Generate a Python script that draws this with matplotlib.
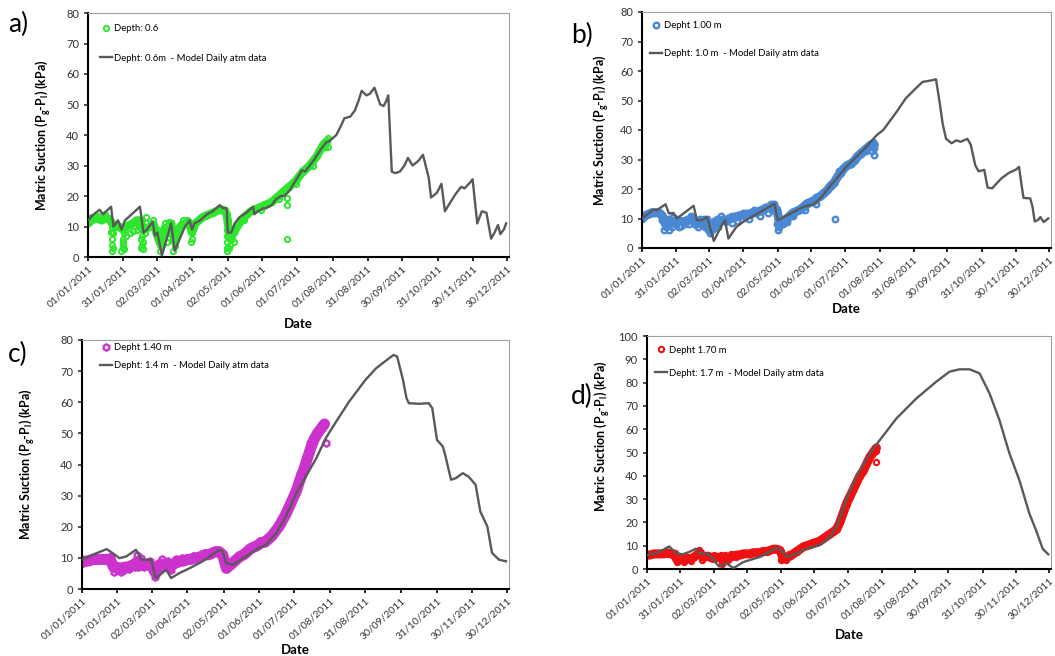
import numpy as np
import pandas as pd
import matplotlib
matplotlib.use("Agg")
import matplotlib.pyplot as plt
from matplotlib.lines import Line2D

plt.rcParams['font.family'] = ['Lato', 'DejaVu Sans']

#DATA (days counted from 01/01/2011)
base_date = pd.Timestamp("2011-01-01")
tick_labels = ["01/01/2011", "31/01/2011", "02/03/2011", "01/04/2011", "02/05/2011",
               "01/06/2011", "01/07/2011", "01/08/2011", "31/08/2011", "30/09/2011",
               "31/10/2011", "30/11/2011", "30/12/2011"]

#days at which the measured band is read (same for every panel)
band_day = [0, 3, 6, 9, 12, 15, 18, 21, 24, 27, 30, 33, 36, 39, 42, 45, 48, 51, 54, 57,
            60, 63, 66, 69, 72, 75, 78, 81, 84, 87, 90, 93, 96, 99, 102, 105, 108, 111, 114, 117,
            120, 123, 126, 129, 132, 135, 138, 141, 144, 147, 150, 153, 156, 159, 162, 165, 168, 171, 174, 177,
            180, 183, 186, 189, 192, 195, 198, 201, 204, 207]

#panel a - depth 0.6 m
model_a_day = [0, 5, 10, 13, 20, 22, 26, 29, 32, 45, 48, 51, 55, 56, 58, 60, 64, 72, 75, 84,
               88, 90, 92, 97, 103, 108, 114, 117, 120, 121, 124, 127, 131, 137, 143, 144, 147, 152, 154, 159,
               163, 167, 170, 175, 178, 183, 185, 188, 192, 196, 201, 206, 209, 215, 219, 222, 227, 231, 234, 237,
               241, 244, 248, 253, 256, 258, 260, 263, 266, 270, 274, 277, 281, 286, 290, 295, 297, 302, 306, 309,
               313, 318, 323, 326, 331, 333, 337, 339, 341, 345, 349, 352, 355, 357, 360, 362]
model_a_kpa = [12, 14, 15.5, 14, 16.5, 10, 12, 9, 12, 16.5, 8, 9, 11, 11.5, 7, 8, 0.5, 11, 2, 10,
               12, 9, 11, 12, 14, 15, 17, 16, 16, 8, 8, 11, 13, 14.5, 16.5, 14, 15, 16, 16, 17,
               19, 20, 20, 22, 24, 27, 28.5, 28, 30, 32, 35, 37.5, 38, 40, 43, 45.5, 46, 48, 51, 54.5,
               53, 53.5, 55.5, 50, 49.5, 51, 53, 28, 27.5, 28, 30, 32.5, 30, 31.5, 33.5, 26, 19.5, 21, 24, 15,
               17.5, 20.5, 23, 22.5, 24.5, 25.5, 11, 13, 15, 14.5, 6, 8, 10.5, 7.5, 9, 11]
band_a_kpa = [11, 12, 12.5, 12.5, 12, 13, 12.5, 11, 10, 10, 9, 10, 10.5, 11, 12, 12, 9, 9.5, 10, 10.5,
              7, 4, 8, 10, 11, 5, 9, 10.5, 11, 11.5, 8, 11, 12, 13, 13.5, 14, 14.5, 15, 15.5, 15.5,
              14, 6, 8, 10, 11.5, 13, 14, 15, 15.5, 16, 16.5, 17, 17.5, 18, 19, 20, 21, 22, 23, 24,
              25, 26.5, 28, 29, 30, 31.5, 33, 35, 37, 38]
extra_a_day = [20, 21, 21, 21, 21, 21, 22, 22, 23, 29, 30, 30, 30, 30, 31, 31, 33, 36, 39, 42,
               44, 46, 46, 47, 47, 47, 47, 47, 48, 48, 49, 50, 50, 55, 56, 61, 62, 62, 63, 64,
               65, 66, 68, 70, 72, 67, 70, 74, 75, 75, 76, 82, 86, 89, 90, 91, 119, 120, 120, 120,
               120, 120, 120, 120, 121, 122, 123, 123, 124, 125, 126, 127, 3, 9, 15, 135, 150, 165, 180, 195,
               205, 208, 208, 172, 172, 172]
extra_a_kpa = [8.3, 2, 4, 6, 8, 10, 3, 8, 10, 2, 3, 4, 5, 6, 8, 2.5, 7, 8, 8.5, 9,
               10, 3, 6, 4, 7, 9, 10, 12, 2.5, 5, 8, 11, 13, 11, 12, 9, 6, 2, 8, 4,
               6, 10, 5, 8, 9, 11, 11.5, 2, 3.5, 5, 7, 12, 12, 5, 6, 10, 15.5, 2, 3, 5,
               7, 9, 11, 13, 12, 3, 4, 8, 9, 6, 5, 9, 13, 13.5, 14, 12, 15.5, 19, 24, 30,
               36, 39, 36, 19.5, 17, 6]

#panel b - depth 1.0 m
model_b_day = [0, 10, 13, 21, 24, 28, 31, 46, 49, 53, 58, 64, 71, 74, 77, 84, 90, 108, 118, 121,
               129, 144, 153, 160, 167, 182, 191, 200, 209, 215, 227, 235, 244, 250, 259, 262, 265, 268, 271, 276,
               280, 284, 290, 293, 297, 300, 305, 308, 312, 320, 327, 333, 336, 338, 340, 346, 348, 350, 353, 355,
               358, 362]
model_b_kpa = [10, 13, 12.8, 14.8, 11.7, 11.9, 10, 14.3, 9.4, 9.4, 10.5, 2.4, 7.7, 9.4, 3.2, 7.1, 8.8, 12.8, 15, 9.4,
               11, 14, 14.8, 17.3, 20.7, 27.5, 30.9, 34.3, 38.2, 40, 46.2, 50.7, 54.1, 56.3, 56.9, 57.2, 50, 42, 37, 35.5,
               36.5, 36, 37, 35, 28, 26, 26.5, 20.5, 20.2, 23.5, 25.5, 26.5, 27.5, 22, 17, 16.8, 14, 9, 9.5, 10.5,
               8.8, 10]
band_b_kpa = [10, 11, 11.5, 12, 12, 12, 11, 8, 8, 8.5, 8.5, 9, 9, 9, 9.5, 10, 8, 8.5, 9, 8,
              6, 6.5, 8, 9, 9.5, 9, 10, 10.5, 10.5, 11, 11, 11.5, 11.5, 12, 12, 12.5, 13, 13.5, 14, 14,
              13, 8, 9, 10, 11, 12, 12.5, 13, 14, 15, 15.5, 16, 17, 17.5, 18.5, 19.5, 21, 22, 24, 25.5,
              27, 28, 28.5, 29.5, 31, 32, 33, 34, 35, 35]
extra_b_day = [18, 20, 21, 22, 24, 27, 30, 35, 40, 44, 47, 50, 55, 58, 61, 62, 65, 67, 70, 73,
               76, 120, 121, 121, 122, 124, 126, 128, 129, 133, 90, 100, 110, 115, 118, 176, 185, 190, 200, 206,
               207, 205, 172, 207, 25, 28, 33, 38, 42, 52, 56, 64, 68, 80, 85, 95, 105, 112, 116, 135,
               145, 155]
extra_b_kpa = [9.5, 6, 7, 10, 6, 7, 10, 7.5, 10, 11, 9, 7, 10, 10, 5, 8, 9, 10, 11, 10,
               9, 8, 6, 10, 7, 10, 8, 9, 8.8, 12, 12, 13, 14, 15, 15, 26, 28.5, 30, 33, 36,
               34, 33, 10, 31.5, 10, 10.5, 7, 8, 8, 10, 7, 9, 7, 8.5, 9, 10, 11, 12, 13, 11,
               13, 15]

#panel c - depth 1.4 m
model_c_day = [0, 9, 21, 24, 32, 38, 46, 51, 56, 59, 63, 72, 76, 83, 92, 103, 117, 120, 123, 129,
               140, 151, 157, 166, 174, 183, 191, 200, 208, 217, 228, 242, 251, 262, 266, 269, 274, 277, 279, 288,
               296, 299, 303, 308, 310, 315, 319, 325, 330, 336, 340, 346, 350, 356, 362]
model_c_kpa = [9.4, 11, 12.8, 12.1, 9.9, 10.5, 12.6, 9.4, 9.4, 9.4, 3.5, 6.2, 3.5, 5.1, 6.7, 8.9, 12.6, 12.1, 8.3, 7.8,
               10.5, 13.2, 14.2, 18, 23.3, 30.8, 36.1, 42, 48.4, 53.8, 60.2, 67.2, 70.9, 74.1, 75.2, 74.7, 67.2, 61.3, 59.7, 59.5,
               59.7, 58.1, 47.9, 45.8, 43.1, 35.1, 35.6, 37.2, 36.1, 33.5, 24.9, 20.1, 11.6, 9.4, 8.9]
band_c_kpa = [8.5, 9, 9, 9.5, 9.5, 9.5, 9.5, 9.5, 9.5, 7, 7, 6.5, 7, 7, 7.5, 8, 9, 7.5, 8, 8,
              7, 5, 7, 8, 8, 7, 8, 8.5, 9, 9, 9.5, 9.5, 10, 10, 10.5, 11, 11, 11.5, 12, 12,
              11, 7, 7.5, 8.5, 9.5, 10.5, 11, 12, 13, 13.5, 14, 15, 15, 16, 17, 18.5, 20, 22, 24, 26.5,
              29, 31.5, 35, 38, 41.5, 45, 48, 50, 51.5, 53]
extra_c_day = [25, 27, 30, 33, 36, 40, 45, 47, 48, 50, 53, 58, 62, 63, 65, 68, 70, 73, 76, 80,
               85, 95, 105, 115, 121, 122, 124, 127, 208, 186, 195, 200, 205, 190, 180, 170]
extra_c_kpa = [10.5, 5.5, 6, 5.5, 6, 6.5, 7, 11, 7, 10, 7, 9, 4, 7.5, 8.5, 9.5, 7, 9, 6, 9.5,
               10, 10.5, 11.5, 12.5, 8, 6.5, 6.5, 8, 47, 37, 47, 49, 52.5, 39, 30, 21]

#panel d - depth 1.7 m
model_d_day = [0, 11, 20, 26, 32, 38, 44, 47, 56, 65, 72, 78, 87, 102, 117, 121, 126, 135, 144, 156,
               165, 171, 177, 183, 192, 201, 210, 225, 243, 261, 273, 282, 291, 300, 309, 318, 327, 336, 345, 351,
               357, 362]
model_d_kpa = [5.9, 7.3, 9.7, 6.9, 6.3, 7.3, 8.7, 6.9, 6.3, 1.1, 2.3, 0.4, 3, 5.2, 9.2, 8, 5.2, 6.6, 8.7, 10.2,
               13.8, 18.1, 25.9, 33.8, 42.4, 49.6, 55.3, 64.6, 73.2, 80.4, 84.7, 85.7, 85.7, 84, 75.4, 63.9, 49.6, 38.1, 23.8, 16.6,
               8.7, 6.3]
band_d_kpa = [6, 6, 6.5, 6.5, 6.5, 6.5, 7, 6.5, 6.5, 4, 4, 4, 4.5, 4.5, 5, 6, 7, 5, 5.5, 5,
              4.5, 5, 5, 3.5, 5, 5, 5.5, 6, 6, 6.5, 6.5, 6.5, 7, 7, 7, 7.5, 7.5, 8, 8.5, 8.5,
              8, 4.5, 5, 5.5, 6.5, 7.5, 8.5, 9.5, 10, 10.5, 11, 11.5, 12, 13, 14, 15, 16, 17, 20, 24,
              28, 31, 34, 37, 40, 42, 45, 48, 50, 52]
extra_d_day = [25, 27, 30, 33, 36, 40, 45, 47, 50, 55, 60, 67, 68, 68, 70, 73, 76, 80, 85, 95,
               105, 115, 121, 122, 125, 128, 207, 207]
extra_d_kpa = [7, 3, 5, 3, 5, 3.5, 7, 8, 4, 6, 6, 6, 2, 4, 6, 4, 6.5, 5, 7, 7.5,
               8, 9, 4, 6, 4, 6.5, 46, 50.5]


#SET-UP
#function that turns day numbers into real dates
def to_dates(days):
    return base_date + pd.to_timedelta(np.array(days, dtype=float), unit="D")

#function that draws one panel
def draw_panel(fig, rect, letter, letter_xy, model_kpa, model_day, band_kpa, extra_day, extra_kpa,
               color, marker, ms, mew, band_lw, obs_label, model_label, ymax, leg_anchor, leg_space,
               ylab_xy, xlab_y):
    ax = fig.add_axes(rect)
    #measured data: dense band of logger readings plus the scattered ones
    ax.plot(to_dates(band_day), band_kpa, color=color, linewidth=band_lw,
            solid_joinstyle="round", solid_capstyle="round", zorder=2)
    ax.plot(to_dates(band_day), band_kpa, linestyle="none", marker=marker, markerfacecolor="none",
            markeredgecolor=color, markersize=ms, markeredgewidth=mew, zorder=2)
    ax.plot(to_dates(extra_day), extra_kpa, linestyle="none", marker=marker, markerfacecolor="none",
            markeredgecolor=color, markersize=ms, markeredgewidth=mew, zorder=2)
    #model line
    ax.plot(to_dates(model_day), model_kpa, color="#595959", linewidth=1.7, zorder=3)

    tick_dates = pd.to_datetime(tick_labels, dayfirst=True)
    ax.set_xticks(tick_dates)
    ax.set_xticklabels(tick_labels, rotation=42, ha="right", rotation_mode="anchor",
                       fontsize=7.5, color="#333333")
    ax.set_xlim(base_date, base_date + pd.Timedelta(days=364.5))
    ax.set_ylim(0, ymax)
    ax.set_yticks(np.arange(0, ymax + 1, 10))
    ax.tick_params(axis="y", labelsize=8, colors="#333333", direction="out", length=3, width=1.2)
    ax.tick_params(axis="x", direction="out", length=3, width=1.2, pad=2)

    for side in ["left", "bottom"]:
        ax.spines[side].set_color("black")
        ax.spines[side].set_linewidth(1.5)
    for side in ["top", "right"]:
        ax.spines[side].set_color("#a0a0a0")
        ax.spines[side].set_linewidth(0.8)

    ax.set_ylabel(r"Matric Suction (P$_\mathregular{g}$-P$_\mathregular{l}$) (kPa)",
                  fontsize=9, fontweight="bold")
    ax.yaxis.set_label_coords(ylab_xy[0], ylab_xy[1])
    ax.set_xlabel("Date", fontsize=9.5, fontweight="bold")
    ax.xaxis.set_label_coords(0.5, xlab_y)

    handles = [Line2D([], [], linestyle="none", marker=marker, markerfacecolor="none",
                      markeredgecolor=color, markersize=ms, markeredgewidth=mew),
               Line2D([], [], color="#595959", linewidth=1.7)]
    ax.legend(handles, [obs_label, model_label], loc="upper left", bbox_to_anchor=leg_anchor,
              frameon=False, fontsize=6.8, handlelength=1.3, handletextpad=0.2,
              labelspacing=leg_space, borderpad=0, borderaxespad=0)

    fig.text(letter_xy[0], letter_xy[1], letter, fontsize=19, ha="left", va="center")
    return ax


def main():
    W, H = 1055, 656
    fig = plt.figure(figsize=(W / 100, H / 100), dpi=100)

    def rect(l, t, r, b):
        return [l / W, 1 - b / H, (r - l) / W, (b - t) / H]

    #panel a
    draw_panel(fig, rect(88, 13, 509, 257), "a)", (8 / W, 1 - 24 / H),
               model_a_kpa, model_a_day, band_a_kpa, extra_a_day, extra_a_kpa,
               "#2ee62e", "o", 3.8, 1.4, 6.0, "Depth: 0.6", "Depht: 0.6m  - Model Daily atm data",
               80, (0.028, 0.955), 2.2, (-0.083, 0.5), -0.25)
    #panel b
    draw_panel(fig, rect(642, 12, 1051, 248), "b)", (571 / W, 1 - 35 / H),
               model_b_kpa, model_b_day, band_b_kpa, extra_b_day, extra_b_kpa,
               "#4a88d4", "o", 4.0, 1.7, 6.5, "Depht 1.00 m", "Depht: 1.0 m  - Model Daily atm data",
               80, (0.02, 0.96), 2.0, (-0.076, 0.5), -0.233)
    #panel c
    draw_panel(fig, rect(82, 340, 509, 589), "c)", (8 / W, 1 - 354 / H),
               model_c_kpa, model_c_day, band_c_kpa, extra_c_day, extra_c_kpa,
               "#cc33cc", "h", 4.6, 1.7, 8.0, "Depht 1.40 m", "Depht: 1.4 m  - Model Daily atm data",
               80, (0.042, 0.986), 0.9, (-0.105, 0.5), -0.22)
    #panel d
    draw_panel(fig, rect(647, 336, 1051, 569), "d)", (571 / W, 1 - 396 / H),
               model_d_kpa, model_d_day, band_d_kpa, extra_d_day, extra_d_kpa,
               "#ee1111", "o", 3.8, 1.5, 6.5, "Depht 1.70 m", "Depht: 1.7 m  - Model Daily atm data",
               100, (0.02, 0.959), 1.5, (-0.087, 0.57), -0.257)

    fig.savefig("out.png", dpi=100)

if __name__ == "__main__":
    main()
